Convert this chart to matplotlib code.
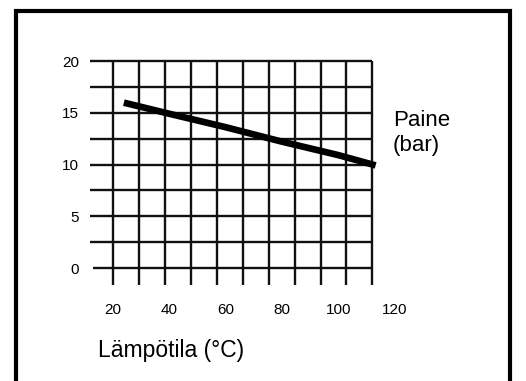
import numpy as np
import matplotlib
matplotlib.use("Agg")
import matplotlib.pyplot as plt
from matplotlib.patches import Rectangle

plt.rcParams["font.family"] = ["Liberation Sans", "DejaVu Sans"]

# ── data ──────────────────────────────────────────────
temp = [25, 40, 60, 80, 100, 112]            # Lämpötila (°C)
pressure = [15.9, 14.9, 13.6, 12.2, 10.9, 10.0]  # Paine (bar)
x_ticks = [20, 40, 60, 80, 100, 120]
y_ticks = [0, 5, 10, 15, 20]

W, H = 526, 381
fig = plt.figure(figsize=(W / 100, H / 100), dpi=100)

# axes placed so that data coords line up with the drawn grid
ax = fig.add_axes([84.8 / W, (H - 288.7) / H, 338.4 / W, 248.4 / H])
ax.set_xlim(10, 130)
ax.set_ylim(-2, 22)
for s in ax.spines.values():
    s.set_visible(False)

# grid (hand drawn style: 10 columns x 8 rows)
x_right = 112
gx = np.linspace(20, x_right, 11)
gy = np.arange(0, 20.1, 2.5)
for x in gx:
    ax.plot([x, x], [-1.6, 20], color="#111", lw=1.7, solid_capstyle="butt", zorder=1)
for y in gy:
    x0 = 12.9 if y == 0 else 11.8
    ax.plot([x0, x_right], [y, y], color="#111", lw=1.7, solid_capstyle="butt", zorder=1)

ax.plot(temp, pressure, color="black", lw=4.8, solid_capstyle="projecting", zorder=3)

ax.set_xticks(x_ticks)
ax.set_xticklabels([str(v) for v in x_ticks], fontsize=11)
ax.set_yticks(y_ticks)
ax.set_yticklabels([str(v) for v in y_ticks], fontsize=11)
ax.tick_params(axis="x", length=0, pad=10)
ax.tick_params(axis="y", length=0, pad=4)

fig.text(393 / W, 1 - 133 / H, "Paine\n(bar)", fontsize=16, ha="left", va="center",
         linespacing=1.2)
fig.text(98 / W, 1 - 350 / H, "Lämpötila (°C)", fontsize=16.5, ha="left", va="center")

# thick outer frame (bottom edge runs off the image)
fig.patches.append(Rectangle((16 / W, -0.1), (509.5 - 16) / W, 1 - 11 / H + 0.1,
                             transform=fig.transFigure, fill=False,
                             edgecolor="black", lw=3.0))

fig.savefig("out.png", dpi=100)
